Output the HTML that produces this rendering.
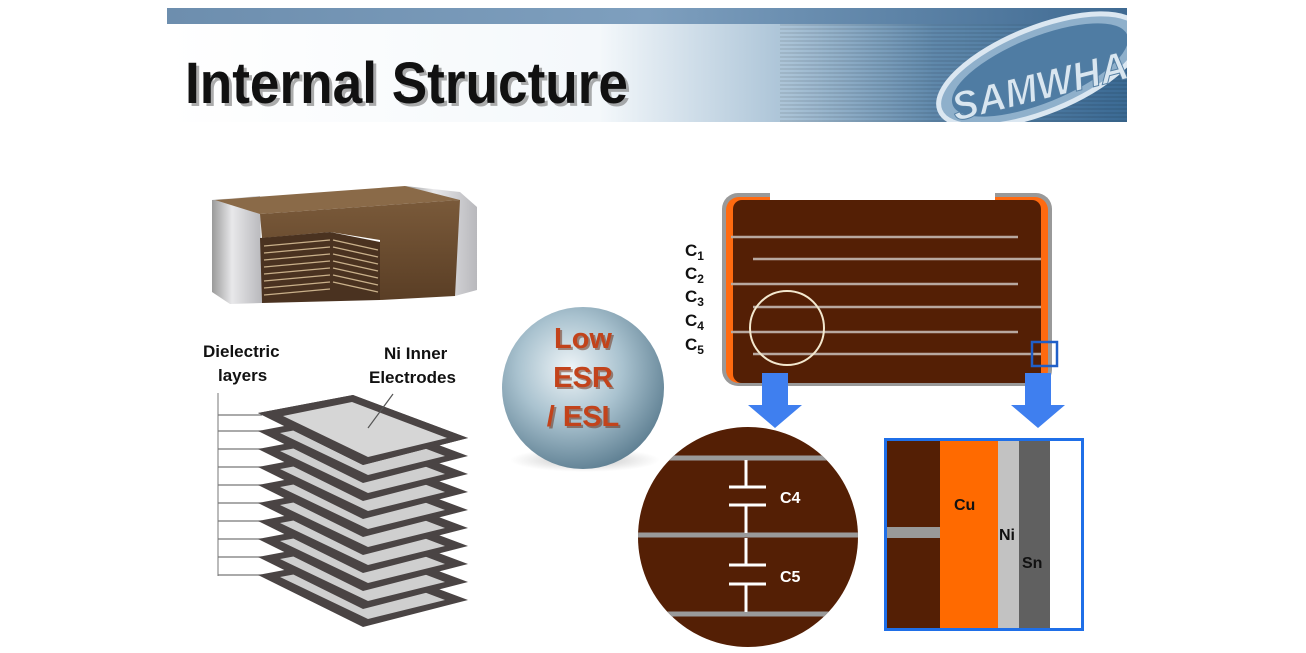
<!DOCTYPE html>
<html><head><meta charset="utf-8"><style>
html,body{margin:0;padding:0;background:#fff;}
svg{display:block;font-family:"Liberation Sans",Arial,sans-serif;}
</style></head><body>
<svg width="1306" height="653" viewBox="0 0 1306 653" xmlns="http://www.w3.org/2000/svg">
<defs>
<linearGradient id="bar" x1="0" x2="1"><stop offset="0" stop-color="#6d8eae"/><stop offset="0.5" stop-color="#7e9fbe"/><stop offset="1" stop-color="#3f6a92"/></linearGradient>
<linearGradient id="hdr" x1="0" x2="1"><stop offset="0" stop-color="#fff"/><stop offset="0.45" stop-color="#f4f8fb"/><stop offset="0.65" stop-color="#a9c2d6"/><stop offset="0.8" stop-color="#5f88ab"/><stop offset="1" stop-color="#3b6a94"/></linearGradient>
<pattern id="stripes" width="4" height="4" patternUnits="userSpaceOnUse"><rect width="4" height="2" fill="#000" opacity="0.08"/></pattern>
<radialGradient id="sph" cx="0.42" cy="0.38" r="0.65"><stop offset="0" stop-color="#eef4f7"/><stop offset="0.5" stop-color="#a9c2cf"/><stop offset="1" stop-color="#5e7f92"/></radialGradient>
<radialGradient id="shd" cx="0.5" cy="0.5" r="0.5"><stop offset="0" stop-color="#888" stop-opacity="0.6"/><stop offset="1" stop-color="#aaa" stop-opacity="0"/></radialGradient>
<linearGradient id="term" x1="0" x2="1"><stop offset="0" stop-color="#9a9a9a"/><stop offset="0.4" stop-color="#e8e8ea"/><stop offset="1" stop-color="#b8b8bc"/></linearGradient>
<linearGradient id="body" x1="0" x2="0" y1="0" y2="1"><stop offset="0" stop-color="#7a5a3a"/><stop offset="1" stop-color="#5a3e25"/></linearGradient>
<clipPath id="zc"><circle cx="748" cy="537" r="110"/></clipPath>
<clipPath id="hc"><rect x="167" y="8" width="960" height="114"/></clipPath>
</defs>

<!-- header -->
<rect x="167" y="24" width="960" height="98" fill="url(#hdr)"/>
<rect x="780" y="24" width="347" height="98" fill="url(#stripes)"/>
<rect x="167" y="8" width="960" height="16" fill="url(#bar)"/>
<g clip-path="url(#hc)">
<g transform="translate(1040,70) rotate(-22)">
<ellipse cx="0" cy="0" rx="108" ry="42" fill="#8fb0cb" stroke="#dbe7f1" stroke-width="5"/>
<ellipse cx="0" cy="0" rx="94" ry="33" fill="#4f7ca3"/>
</g>
<text x="948" y="102" font-size="40" font-weight="bold" font-style="italic" fill="#d9e6f0" stroke="#557fa3" stroke-width="1" transform="rotate(-14 1030 80)" textLength="180" lengthAdjust="spacingAndGlyphs">SAMWHA</text>
</g>
<text x="188" y="106" font-size="58" font-weight="bold" fill="#777" opacity="0.6" textLength="443" lengthAdjust="spacingAndGlyphs">Internal Structure</text>
<text x="185" y="103" font-size="58" font-weight="bold" fill="#111" textLength="443" lengthAdjust="spacingAndGlyphs">Internal Structure</text>

<!-- chip photo -->
<path d="M212 200 L260 196 L262 303 L230 304 L212 292 Z" fill="url(#term)"/>
<path d="M405 186 L460 192 L477 207 L477 290 L455 296 L455 206 Z" fill="url(#term)"/>
<path d="M215 200 L405 186 L460 200 L260 214 Z" fill="#8a6a48"/>
<path d="M260 214 L460 200 L455 296 L380 300 L380 240 L330 232 L262 238 Z" fill="url(#body)"/>
<path d="M260 238 L330 232 L380 242 L380 300 L262 303 Z" fill="#4a3220"/>
<g stroke="#c9b08a" stroke-width="1.3">
<line x1="264" y1="246" x2="330" y2="240"/><line x1="264" y1="253" x2="330" y2="247"/><line x1="264" y1="260" x2="330" y2="254"/><line x1="264" y1="267" x2="330" y2="261"/><line x1="264" y1="274" x2="330" y2="268"/><line x1="264" y1="281" x2="330" y2="275"/><line x1="264" y1="288" x2="330" y2="282"/><line x1="264" y1="295" x2="330" y2="289"/>
<line x1="333" y1="240" x2="378" y2="250"/><line x1="333" y1="247" x2="378" y2="257"/><line x1="333" y1="254" x2="378" y2="264"/><line x1="333" y1="261" x2="378" y2="271"/><line x1="333" y1="268" x2="378" y2="278"/><line x1="333" y1="275" x2="378" y2="285"/><line x1="333" y1="282" x2="378" y2="292"/>
</g>

<!-- labels -->
<text x="203" y="357" font-size="17" font-weight="bold" fill="#111">Dielectric</text>
<text x="218" y="381" font-size="17" font-weight="bold" fill="#111">layers</text>
<text x="384" y="359" font-size="17" font-weight="bold" fill="#111">Ni Inner</text>
<text x="369" y="383" font-size="17" font-weight="bold" fill="#111">Electrodes</text>

<!-- stack -->
<line x1="218" y1="393" x2="218" y2="576" stroke="#777" stroke-width="1"/>
<g stroke="#777" stroke-width="1.2">
<line x1="218" y1="415" x2="262" y2="415"/><line x1="218" y1="431" x2="262" y2="431"/><line x1="218" y1="449" x2="262" y2="449"/><line x1="218" y1="467" x2="262" y2="467"/><line x1="218" y1="485" x2="262" y2="485"/><line x1="218" y1="503" x2="262" y2="503"/><line x1="218" y1="521" x2="262" y2="521"/><line x1="218" y1="539" x2="262" y2="539"/><line x1="218" y1="557" x2="262" y2="557"/><line x1="218" y1="575" x2="262" y2="575"/>
</g>
<g>
<g transform="translate(0,182)"><path d="M258 393 L353 375 L468 418 L363 445 Z" fill="#4a4444"/><path d="M280 395 L350 382 L445 418 L368 437 Z" fill="#cfcfcf"/></g>
<g transform="translate(0,164)"><path d="M258 393 L353 375 L468 418 L363 445 Z" fill="#4a4444"/><path d="M280 395 L350 382 L445 418 L368 437 Z" fill="#cfcfcf"/></g>
<g transform="translate(0,146)"><path d="M258 393 L353 375 L468 418 L363 445 Z" fill="#4a4444"/><path d="M280 395 L350 382 L445 418 L368 437 Z" fill="#cfcfcf"/></g>
<g transform="translate(0,128)"><path d="M258 393 L353 375 L468 418 L363 445 Z" fill="#4a4444"/><path d="M280 395 L350 382 L445 418 L368 437 Z" fill="#cfcfcf"/></g>
<g transform="translate(0,110)"><path d="M258 393 L353 375 L468 418 L363 445 Z" fill="#4a4444"/><path d="M280 395 L350 382 L445 418 L368 437 Z" fill="#cfcfcf"/></g>
<g transform="translate(0,92)"><path d="M258 393 L353 375 L468 418 L363 445 Z" fill="#4a4444"/><path d="M280 395 L350 382 L445 418 L368 437 Z" fill="#cfcfcf"/></g>
<g transform="translate(0,74)"><path d="M258 393 L353 375 L468 418 L363 445 Z" fill="#4a4444"/><path d="M280 395 L350 382 L445 418 L368 437 Z" fill="#cfcfcf"/></g>
<g transform="translate(0,56)"><path d="M258 393 L353 375 L468 418 L363 445 Z" fill="#4a4444"/><path d="M280 395 L350 382 L445 418 L368 437 Z" fill="#cfcfcf"/></g>
<g transform="translate(0,38)"><path d="M258 393 L353 375 L468 418 L363 445 Z" fill="#4a4444"/><path d="M280 395 L350 382 L445 418 L368 437 Z" fill="#cfcfcf"/></g>
<g transform="translate(0,20)"><path d="M258 393 L353 375 L468 418 L363 445 Z" fill="#4a4444"/><path d="M280 395 L350 382 L445 418 L368 437 Z" fill="#cfcfcf"/></g>
<path d="M258 413 L353 395 L468 438 L363 465 Z" fill="#4a4444"/><path d="M283 416 L352 402 L447 438 L368 457 Z" fill="#d6d6d6"/>
<line x1="393" y1="394" x2="368" y2="428" stroke="#555" stroke-width="1.2"/>
</g>

<!-- sphere -->
<ellipse cx="585" cy="460" rx="75" ry="12" fill="url(#shd)"/>
<circle cx="583" cy="388" r="81" fill="url(#sph)"/>
<g font-size="29" font-weight="bold" text-anchor="middle">
<text x="585" y="350" fill="#6b2a10" opacity="0.5">Low</text><text x="583" y="348" fill="#c2431b">Low</text>
<text x="585" y="389" fill="#6b2a10" opacity="0.5">ESR</text><text x="583" y="387" fill="#c2431b">ESR</text>
<text x="585" y="428" fill="#6b2a10" opacity="0.5">/ ESL</text><text x="583" y="426" fill="#c2431b">/ ESL</text>
</g>

<!-- right chip -->
<rect x="722" y="193" width="330" height="193" rx="16" fill="#999"/>
<rect x="726" y="197" width="322" height="186" rx="13" fill="#ff6a10"/>
<rect x="733" y="200" width="308" height="183" rx="9" fill="#541f05"/>
<rect x="770" y="192" width="225" height="8" fill="#fff"/>
<rect x="760" y="200" width="260" height="4" fill="#541f05"/>
<rect x="770" y="386" width="225" height="4" fill="#fff"/>
<g stroke="#b8a8a0" stroke-width="2.5">
<line x1="731" y1="237" x2="1018" y2="237"/><line x1="753" y1="259" x2="1041" y2="259"/><line x1="731" y1="284" x2="1018" y2="284"/><line x1="753" y1="307" x2="1041" y2="307"/><line x1="731" y1="332" x2="1018" y2="332"/><line x1="753" y1="354" x2="1041" y2="354"/>
</g>
<circle cx="787" cy="328" r="37" fill="none" stroke="#f3e8cf" stroke-width="2"/>
<rect x="1032" y="342" width="25" height="24" fill="none" stroke="#1f5fc8" stroke-width="2.5"/>
<g font-size="17" font-weight="bold" fill="#111">
<text x="685" y="256">C<tspan font-size="12" dy="4">1</tspan></text>
<text x="685" y="279">C<tspan font-size="12" dy="4">2</tspan></text>
<text x="685" y="302">C<tspan font-size="12" dy="4">3</tspan></text>
<text x="685" y="326">C<tspan font-size="12" dy="4">4</tspan></text>
<text x="685" y="350">C<tspan font-size="12" dy="4">5</tspan></text>
</g>

<!-- arrows -->
<path d="M762 373 H788 V405 H802 L775 428 L748 405 H762 Z" fill="#3f7fef"/>
<path d="M1025 373 H1051 V405 H1065 L1038 428 L1011 405 H1025 Z" fill="#3f7fef"/>

<!-- zoom circle -->
<circle cx="748" cy="537" r="110" fill="#541f05"/>
<g clip-path="url(#zc)" stroke="#9a9a9a" stroke-width="5">
<line x1="630" y1="458" x2="870" y2="458"/><line x1="630" y1="535" x2="870" y2="535"/><line x1="630" y1="614" x2="870" y2="614"/>
</g>
<g stroke="#fff" stroke-width="3" fill="none">
<line x1="746" y1="460" x2="746" y2="487"/><line x1="729" y1="487" x2="766" y2="487"/>
<line x1="729" y1="505" x2="766" y2="505"/><line x1="746" y1="505" x2="746" y2="533"/>
<line x1="746" y1="538" x2="746" y2="565"/><line x1="729" y1="565" x2="766" y2="565"/>
<line x1="729" y1="584" x2="766" y2="584"/><line x1="746" y1="584" x2="746" y2="612"/>
</g>
<g font-size="16" font-weight="bold" fill="#fff"><text x="780" y="503">C4</text><text x="780" y="582">C5</text></g>

<!-- box -->
<rect x="887" y="441" width="53" height="187" fill="#541f05"/>
<rect x="887" y="527" width="53" height="11" fill="#999"/>
<rect x="940" y="441" width="58" height="187" fill="#ff6a00"/>
<rect x="998" y="441" width="21" height="187" fill="#c2c2c2"/>
<rect x="1019" y="441" width="31" height="187" fill="#606060"/>
<rect x="1050" y="441" width="31" height="187" fill="#fff"/>
<rect x="885.5" y="439.5" width="197" height="190" fill="none" stroke="#1f6fe8" stroke-width="3"/>
<g font-size="16" font-weight="bold" fill="#111"><text x="954" y="510">Cu</text><text x="999" y="540">Ni</text><text x="1022" y="568">Sn</text></g>
</svg>
</body></html>
